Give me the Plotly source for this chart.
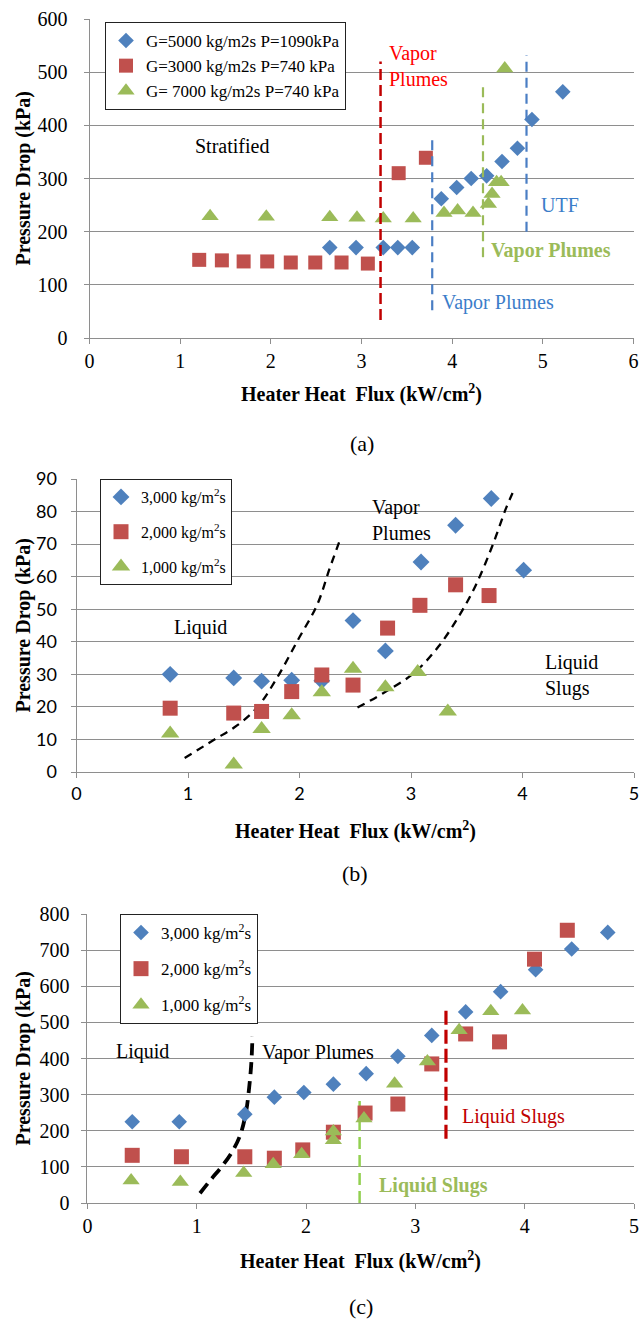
import plotly.graph_objects as go

# ---------------- data: panel (a) ----------------
a_g5000_x = [2.65, 2.94, 3.24, 3.40, 3.56, 3.88, 4.05, 4.21, 4.38, 4.55, 4.72, 4.88, 5.22]
a_g5000_y = [170, 170, 170, 170, 170, 262, 283, 300, 305, 332, 357, 411, 463]
a_g3000_x = [1.21, 1.46, 1.70, 1.96, 2.22, 2.49, 2.78, 3.07, 3.41, 3.71]
a_g3000_y = [147, 146, 144, 144, 142, 142, 142, 140, 310, 339]
a_g7000_x = [1.33, 1.95, 2.65, 2.95, 3.24, 3.57, 3.91, 4.06, 4.23, 4.40, 4.44, 4.49, 4.54, 4.58]
a_g7000_y = [229, 228, 227, 226, 225, 225, 235, 240, 235, 252, 271, 293, 293, 507]
a_names = ["G=5000 kg/m2s P=1090kPa", "G=3000 kg/m2s P=740 kPa", "G= 7000 kg/m2s P=740 kPa"]

# boundary lines (a): [x, y_bottom, y_top]
a_red_line = [3.21, 34, 520]
a_blue_line1 = [3.78, 52, 380]
a_green_line = [4.34, 152, 481]
a_blue_line2 = [4.82, 200, 532]

# ---------------- data: panel (b) ----------------
b_3000_x = [0.84, 1.41, 1.66, 1.93, 2.20, 2.48, 2.77, 3.09, 3.40, 3.72, 4.01]
b_3000_y = [30.0, 28.9, 27.9, 28.2, 28.0, 46.5, 37.2, 64.5, 75.8, 84.0, 62.0]
b_2000_x = [0.84, 1.41, 1.66, 1.93, 2.20, 2.48, 2.79, 3.08, 3.40, 3.70]
b_2000_y = [19.6, 18.1, 18.6, 24.7, 29.8, 26.7, 44.2, 51.2, 57.5, 54.2]
b_1000_x = [0.84, 1.41, 1.66, 1.93, 2.20, 2.48, 2.77, 3.06, 3.33]
b_1000_y = [11.8, 2.3, 13.2, 17.4, 24.5, 31.7, 26.0, 30.7, 18.6]
b_curve1_x = [0.97, 1.23, 1.44, 1.62, 1.80, 1.98, 2.16, 2.27, 2.36]
b_curve1_y = [4.3, 9.8, 14.3, 19.8, 29.0, 40.2, 51.5, 62.5, 71.0]
b_curve2_x = [2.52, 2.76, 3.03, 3.25, 3.43, 3.58, 3.73, 3.85, 3.93]
b_curve2_y = [19.8, 24.4, 30.5, 38.7, 47.9, 57.3, 69.5, 80.8, 87.2]

# ---------------- data: panel (c) ----------------
c_3000_x = [0.41, 0.84, 1.44, 1.71, 1.98, 2.25, 2.55, 2.84, 3.15, 3.46, 3.78, 4.10, 4.43, 4.76]
c_3000_y = [225, 225, 246, 293, 306, 329, 358, 406, 464, 529, 585, 646, 703, 749]
c_2000_x = [0.41, 0.86, 1.44, 1.71, 1.97, 2.25, 2.54, 2.84, 3.15, 3.46, 3.77, 4.09, 4.39]
c_2000_y = [132, 128, 128, 124, 147, 196, 249, 274, 385, 468, 446, 675, 755]
c_1000_x = [0.40, 0.85, 1.43, 1.70, 1.96, 2.25, 2.25, 2.53, 2.81, 3.11, 3.40, 3.69, 3.98]
c_1000_y = [62, 58, 83, 107, 135, 198, 174, 234, 330, 392, 478, 531, 533]
c_curve_x = [1.03, 1.13, 1.24, 1.33, 1.40, 1.45, 1.48, 1.50, 1.51]
c_curve_y = [27, 65, 105, 145, 190, 250, 320, 390, 462]
c_green_line = [2.49, 0, 288]
c_red_line = [3.28, 178, 535]
bc_names = ["3,000 kg/m<sup>2</sup>s", "2,000 kg/m<sup>2</sup>s", "1,000 kg/m<sup>2</sup>s"]

# ---------------- styling ----------------
W, H = 641, 1319
BLUE, RED, GREEN = "#4F81BD", "#C0504D", "#9BBB59"
SERIF = "Liberation Serif"
SANS = "Lato"
GRID = "#8E8E8E"

# plot areas in pixels: (left, right, top, bottom)
areas = {
    "a": (89.5, 633.5, 19, 338),
    "b": (76.5, 634, 479, 772),
    "c": (87.4, 634, 914, 1203),
}


def dom(a):
    l, r, t, b = areas[a]
    return [l / W, r / W], [1 - b / H, 1 - t / H]


fig = go.Figure()


def add_markers(x, y, name, symbol, color, size, ax, legend, group):
    fig.add_trace(go.Scatter(
        x=x, y=y, mode="markers", name=name,
        marker=dict(symbol=symbol, color=color, size=size, line=dict(width=0)),
        xaxis="x" + ax, yaxis="y" + ax, legend=legend, legendgroup=group,
        cliponaxis=False))


def add_line(x, y, color, width, dash, ax, shape="linear"):
    fig.add_trace(go.Scatter(
        x=x, y=y, mode="lines", showlegend=False,
        line=dict(color=color, width=width, dash=dash, shape=shape),
        xaxis="x" + ax, yaxis="y" + ax))


def vline(spec, color, width, dash, ax):
    add_line([spec[0], spec[0]], [spec[1], spec[2]], color, width, dash, ax)


# panel (a)
add_markers(a_g5000_x, a_g5000_y, a_names[0], "diamond", BLUE, 12, "", "legend", "a")
add_markers(a_g3000_x, a_g3000_y, a_names[1], "square", RED, 14, "", "legend", "a")
add_markers(a_g7000_x, a_g7000_y, a_names[2], "triangle-up", GREEN, 15, "", "legend", "a")
vline(a_red_line, "#C00000", 2.5, "11px,5px", "")
vline(a_blue_line1, "#4A7EC4", 2.2, "10px,6px", "")
vline(a_green_line, GREEN, 2.2, "10px,6px", "")
vline(a_blue_line2, "#4A7EC4", 2.2, "10px,6px", "")

# panel (b)
add_line(b_curve1_x, b_curve1_y, "#000000", 2.3, "8px,6px", "2", "spline")
add_line(b_curve2_x, b_curve2_y, "#000000", 2.3, "8px,6px", "2", "spline")
add_markers(b_3000_x, b_3000_y, bc_names[0], "diamond", BLUE, 13, "2", "legend2", "b1")
add_markers(b_2000_x, b_2000_y, bc_names[1], "square", RED, 15, "2", "legend2", "b2")
add_markers(b_1000_x, b_1000_y, bc_names[2], "triangle-up", GREEN, 16, "2", "legend2", "b3")

# panel (c)
add_line(c_curve_x, c_curve_y, "#000000", 3.8, "12px,7px", "3", "spline")
vline(c_green_line, "#92D050", 2.5, "12px,6px", "3")
vline(c_red_line, "#C00000", 3.2, "14px,5px", "3")
add_markers(c_3000_x, c_3000_y, bc_names[0], "diamond", BLUE, 12, "3", "legend3", "c1")
add_markers(c_2000_x, c_2000_y, bc_names[1], "square", RED, 15, "3", "legend3", "c2")
add_markers(c_1000_x, c_1000_y, bc_names[2], "triangle-up", GREEN, 15, "3", "legend3", "c3")


def xaxis_cfg(a, rng, anchor, font):
    d, _ = dom(a)
    return dict(domain=d, range=rng, dtick=1, anchor=anchor, showgrid=False, zeroline=False,
                showline=True, linecolor=GRID, linewidth=1, ticks="outside", ticklen=5,
                tickcolor=GRID, tickfont=font, automargin=False, fixedrange=True)


def yaxis_cfg(a, rng, dtick, anchor, font, standoff):
    _, d = dom(a)
    return dict(domain=d, range=rng, dtick=dtick, anchor=anchor, showgrid=True, gridcolor=GRID,
                gridwidth=1, zeroline=False, showline=True, linecolor=GRID, linewidth=1,
                ticks="outside", ticklen=5, tickcolor=GRID, tickfont=font,
                ticklabelstandoff=standoff, automargin=False, fixedrange=True)


serif_tick = dict(family=SERIF, size=20, color="#000000")
sans_tick = dict(family=SANS, size=18, color="#000000")

annotations = []


def text(x, y, s, ax, color="#000000", size=20, xanchor="center", align="center", weight="normal"):
    annotations.append(dict(x=x, y=y, xref="x" + ax, yref="y" + ax, text=s, showarrow=False,
                            xanchor=xanchor, yanchor="middle", align=align,
                            font=dict(family=SERIF, size=size, color=color, weight=weight)))


# panel (a) labels
text(3.28, 511, "Vapor<br>Plumes", "", "#FF0000", 20, "left", "left")
text(1.57, 362, "Stratified", "")
text(4.96, 250, "UTF", "", "#3B7DC9", 20, "left")
text(3.87, 66, "Vapor Plumes", "", "#3B7DC9", 20, "left")
text(4.41, 165, "Vapor Plumes", "", GREEN, 20, "left", weight="bold")
# panel (b) labels
text(2.63, 77.5, "Vapor<br>Plumes", "2", xanchor="left", align="left")
text(1.11, 44.5, "Liquid", "2")
text(4.18, 29.7, "Liquid<br>Slugs", "2", xanchor="left", align="left")
# panel (c) labels
text(0.50, 420, "Liquid", "3")
text(1.58, 418, "Vapor Plumes", "3", xanchor="left")
text(3.41, 240, "Liquid Slugs", "3", "#C00000", 20, "left")
text(2.65, 48, "Liquid Slugs", "3", GREEN, 20, "left", weight="bold")

# axis titles and captions (paper coordinates)
for a, xt_y, cap_y in [("a", 393, 443), ("b", 830, 873), ("c", 1260, 1306)]:
    l, r, t, b = areas[a]
    cx = (l + r) / 2 / W
    annotations.append(dict(x=cx, y=1 - xt_y / H, xref="paper", yref="paper",
                            text="Heater Heat  Flux (kW/cm<sup>2</sup>)", showarrow=False,
                            xanchor="center", yanchor="middle",
                            font=dict(family=SERIF, size=20, color="#000000", weight="bold")))
    annotations.append(dict(x=cx, y=1 - cap_y / H, xref="paper", yref="paper",
                            text="(%s)" % a, showarrow=False, xanchor="center", yanchor="middle",
                            font=dict(family=SERIF, size=22, color="#000000")))
    annotations.append(dict(x=23 / W, y=1 - (t + b) / 2 / H, xref="paper", yref="paper",
                            text="Pressure Drop (kPa)", showarrow=False, textangle=-90,
                            xanchor="center", yanchor="middle",
                            font=dict(family=SERIF, size=20, color="#000000", weight="bold")))


def legend_cfg(left, top, size, gap):
    return dict(x=left / W, y=1 - top / H, xanchor="left", yanchor="top", xref="paper",
                yref="paper", bgcolor="white", bordercolor="#222222", borderwidth=1,
                font=dict(family=SERIF, size=size, color="#000000"), tracegroupgap=gap,
                itemwidth=30)


fig.update_layout(
    width=W, height=H, template="none",
    margin=dict(l=0, r=0, t=0, b=0, pad=0),
    paper_bgcolor="white", plot_bgcolor="white",
    font=dict(family=SERIF, color="#000000"),
    showlegend=True,
    xaxis=xaxis_cfg("a", [0, 6], "y", serif_tick),
    yaxis=yaxis_cfg("a", [0, 600], 100, "x", serif_tick, 12),
    xaxis2=xaxis_cfg("b", [0, 5], "y2", sans_tick),
    yaxis2=yaxis_cfg("b", [0, 90], 10, "x2", sans_tick, 10),
    xaxis3=xaxis_cfg("c", [0, 5], "y3", serif_tick),
    yaxis3=yaxis_cfg("c", [0, 800], 100, "x3", serif_tick, 8),
    legend=legend_cfg(105, 22, 17, 0),
    legend2=legend_cfg(100, 479, 16, 11),
    legend3=legend_cfg(120, 914, 17, 11),
    annotations=annotations,
)

fig.write_html("out.html")
